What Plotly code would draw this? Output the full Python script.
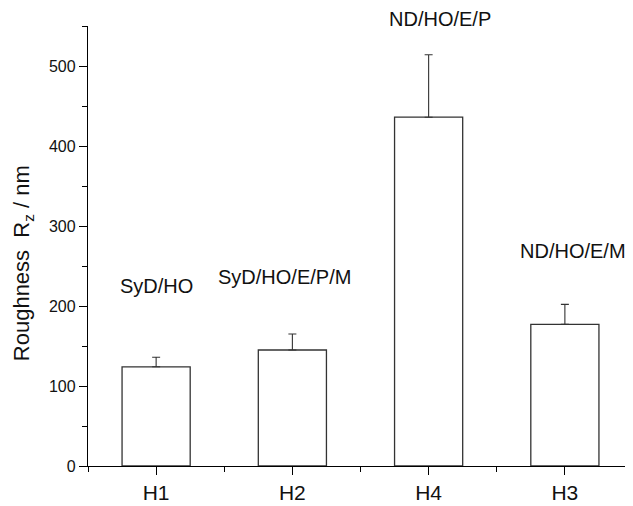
import plotly.graph_objects as go

categories = ["H1", "H2", "H4", "H3"]
roughness = [124, 145, 436, 177]
errors = [12, 20, 78, 25]
labels = ["SyD/HO", "SyD/HO/E/P/M", "ND/HO/E/P", "ND/HO/E/M"]
label_x = [0.0, 0.94, 2.08, 3.06]
label_y = [225, 236, 559, 269]
y_ticks = [0, 100, 200, 300, 400, 500]
y_max = 550

xpos = list(range(len(categories)))
font = "Liberation Sans, Arial, sans-serif"

fig = go.Figure()
fig.add_trace(go.Bar(
    x=xpos, y=roughness, width=0.5,
    marker=dict(color="white", line=dict(color="#333333", width=1.3)),
    error_y=dict(type="data", array=errors, arrayminus=[0]*len(errors),
                 symmetric=False, color="#333333", thickness=1.1, width=4),
    showlegend=False,
))

# labels positioned in axis-fraction units so the one above the axis top is still drawn
for t, xx, yy in zip(labels, label_x, label_y):
    fig.add_annotation(x=xx, y=yy / y_max, yref="paper", text=t, showarrow=False,
                       font=dict(family=font, size=20, color="#111111"),
                       xanchor="center", yanchor="middle", borderpad=0)

fig.add_annotation(xref="paper", yref="paper", x=-0.12, y=0.46,
                   text="Roughness  R<sub>z</sub> / nm", textangle=-90,
                   showarrow=False, font=dict(family=font, size=22, color="#111111"),
                   xanchor="center", yanchor="middle")

# page body has an 8px margin, so the figure is sized/offset to compensate
fig.update_layout(
    width=625, height=498,
    margin=dict(l=80, r=0, t=18, b=40),
    plot_bgcolor="white", paper_bgcolor="white",
    font=dict(family=font, color="#111111"),
    bargap=0.5,
)
fig.update_xaxes(
    range=[-0.5, 3.5], tickvals=xpos, ticktext=categories,
    showgrid=False, zeroline=False, showline=True, linecolor="black", linewidth=1.3,
    ticks="outside", ticklen=8, tickwidth=1.3, tickcolor="black",
    tickfont=dict(family=font, size=21, color="#111111"),
    minor=dict(tick0=0.5, dtick=1, ticks="outside", ticklen=5, tickwidth=1.3, tickcolor="black"),
)
fig.update_yaxes(
    range=[0, y_max], tickvals=y_ticks,
    showgrid=False, zeroline=False, showline=True, linecolor="black", linewidth=1.3,
    ticks="outside", ticklen=8, tickwidth=1.3, tickcolor="black",
    tickfont=dict(family=font, size=16, color="#111111"),
    minor=dict(tick0=50, dtick=100, ticks="outside", ticklen=5, tickwidth=1.3, tickcolor="black"),
)

fig.write_html("out.html")
